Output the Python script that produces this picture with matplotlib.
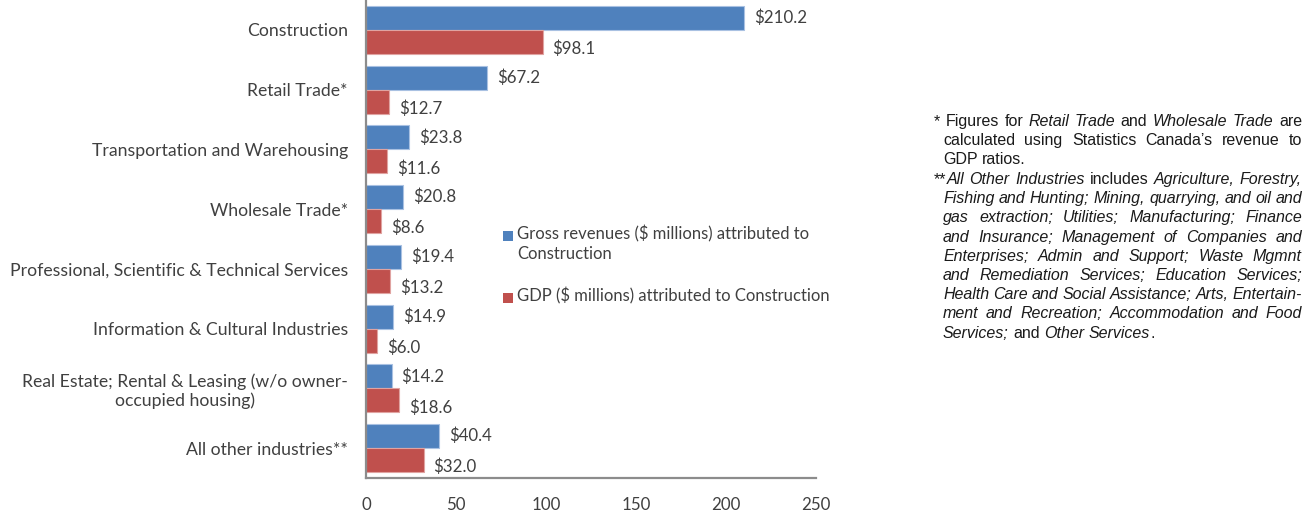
import numpy as np
import matplotlib.pyplot as plt
from matplotlib.patches import Rectangle

# Construction-attributed revenue and GDP by industry ($ millions)
industries = [
    "Construction",
    "Retail Trade*",
    "Transportation and Warehousing",
    "Wholesale Trade*",
    "Professional, Scientific & Technical Services",
    "Information & Cultural Industries",
    "Real Estate; Rental & Leasing (w/o owner-\noccupied housing)",
    "All other industries**",
]
gross_revenue = [210.2, 67.2, 23.8, 20.8, 19.4, 14.9, 14.2, 40.4]
gdp = [98.1, 12.7, 11.6, 8.6, 13.2, 6.0, 18.6, 32.0]
x_ticks = [0, 50, 100, 150, 200, 250]

series_labels = [
    "Gross revenues ($ millions) attributed to\nConstruction",
    "GDP ($ millions) attributed to Construction",
]

BLUE = "#4f81bd"
RED = "#c0504d"
TEXT = "#404040"
W, H = 1310, 513

plt.rcParams["font.family"] = ["Lato", "DejaVu Sans"]

fig = plt.figure(figsize=(W / 100, H / 100), dpi=100)
ax = fig.add_axes([366 / W, 1 - 478 / H, 450 / W, 478 / H])

y = np.arange(len(industries))
h = 0.40
ax.barh(y - h / 2, gross_revenue, height=h, color=BLUE, edgecolor="#a9c1e2", linewidth=0.8)
ax.barh(y + h / 2, gdp, height=h, color=RED, edgecolor="#e0a3a1", linewidth=0.8)

for yi, v in zip(y, gross_revenue):
    ax.annotate(f"${v:.1f}", (v, yi - h / 2), xytext=(10, 0), textcoords="offset pixels",
                ha="left", va="center", fontsize=12.2, color=TEXT)
for yi, v in zip(y, gdp):
    ax.annotate(f"${v:.1f}", (v, yi + h / 2), xytext=(10, -7), textcoords="offset pixels",
                ha="left", va="center", fontsize=12.2, color=TEXT)

ax.set_xlim(0, 250)
ax.set_ylim(len(industries) - 0.5, -0.5)
ax.set_xticks(x_ticks)
ax.set_yticks(y)
ax.set_yticklabels(industries, multialignment="center", fontsize=12.7)
ax.tick_params(axis="both", length=0, labelcolor=TEXT)
ax.tick_params(axis="x", labelsize=12.2, pad=14)
ax.tick_params(axis="y", pad=13)
for s in ["top", "right"]:
    ax.spines[s].set_visible(False)
for s in ["left", "bottom"]:
    ax.spines[s].set_color("#8c8c8c")
    ax.spines[s].set_linewidth(1.6)

# legend, each swatch lined up with the first line of its label
for color, label, yc in zip([BLUE, RED], series_labels, [236, 298]):
    fig.patches.append(Rectangle((503 / W, 1 - (yc + 5) / H), 10 / W, 10 / H,
                                 transform=fig.transFigure, facecolor=color, edgecolor="none"))
    fig.text(517 / W, 1 - (yc - 11) / H, label, ha="left", va="top", fontsize=12,
             color=TEXT, linespacing=1.3)

# footnotes, set as justified paragraphs
note_pt = 11.5
note_font = "Liberation Sans"
paragraphs = [
    [
        [("* Figures for ", False), ("Retail Trade", True), (" and ", False),
         ("Wholesale Trade", True), (" are", False)],
        [("calculated using Statistics Canada\u2019s revenue to", False)],
        [("GDP ratios.", False)],
    ],
    [
        [("**", False), ("All Other Industries", True), (" includes ", False),
         ("Agriculture, Forestry,", True)],
        [("Fishing and Hunting; Mining, quarrying, and oil and", True)],
        [("gas extraction; Utilities; Manufacturing; Finance", True)],
        [("and Insurance; Management of Companies and", True)],
        [("Enterprises; Admin and Support; Waste Mgmnt", True)],
        [("and Remediation Services; Education Services;", True)],
        [("Health Care and Social Assistance; Arts, Entertain-", True)],
        [("ment and Recreation; Accommodation and Food", True)],
        [("Services;", True), (" and ", False), ("Other Services", True), (".", False)],
    ],
]


def split_words(segments):
    words = []
    new_word = True
    for text, italic in segments:
        for k, part in enumerate(text.split(" ")):
            if k > 0:
                new_word = True
            if part == "":
                continue
            if new_word or not words:
                words.append([(part, italic)])
            else:
                words[-1].append((part, italic))
            new_word = False
    return words


renderer = fig.canvas.get_renderer()


def make_text(s, italic):
    return fig.text(0, 0, s, fontsize=note_pt, family=note_font, color="#1a1a1a",
                    style="italic" if italic else "normal", va="baseline", ha="left")


def ink_width(t):
    return t.get_window_extent(renderer).width


p1, p2 = make_text("n n", False), make_text("nn", False)
space_w = ink_width(p1) - ink_width(p2)
p1.remove()
p2.remove()

right_edge = 1302
base = 126
step = 19.25
for para in paragraphs:
    for i, segs in enumerate(para):
        left = 934 if i == 0 else 943
        words = []
        for w in split_words(segs):
            pieces = [make_text(s, it) for s, it in w]
            words.append((pieces, sum(ink_width(t) for t in pieces)))
        total = sum(wd for _, wd in words)
        last = i == len(para) - 1
        gap = space_w if last or len(words) < 2 else (right_edge - left - total) / (len(words) - 1)
        x = left
        for pieces, wd in words:
            px = x
            for t in pieces:
                t.set_position((px / W, 1 - base / H))
                px += ink_width(t)
            x += wd + gap
        base += step

fig.savefig("out.png", dpi=100)
